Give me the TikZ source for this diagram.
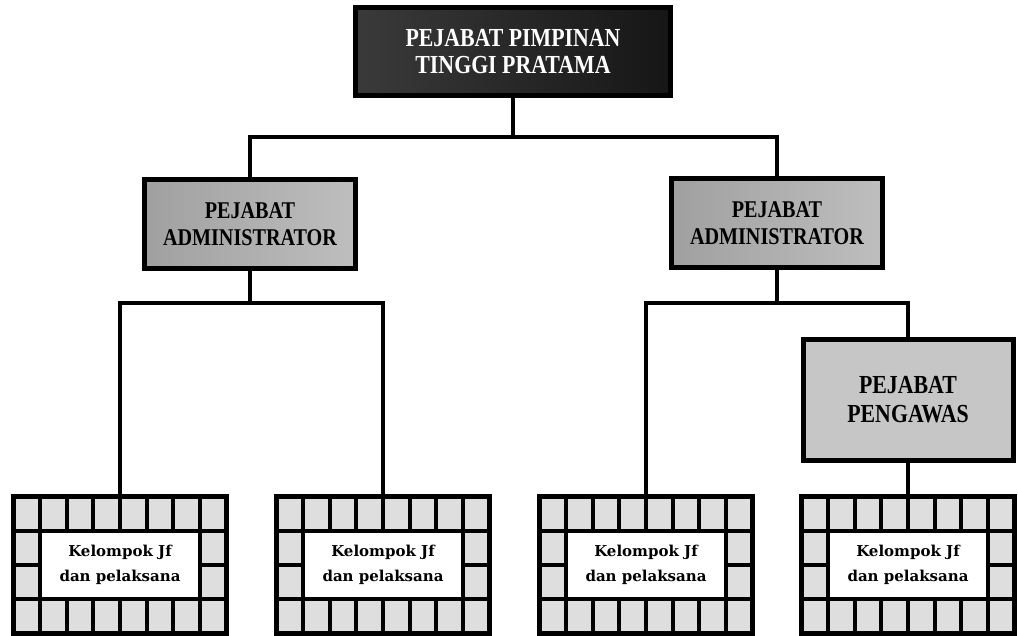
\documentclass[tikz,border=0pt]{standalone}
\usepackage{fontspec}
\setmainfont{Liberation Serif}
\newfontfamily\chartfont{Liberation Serif}[FakeStretch=0.84]
\newfontfamily\slabfont{DejaVu Serif}
\usetikzlibrary{positioning,calc}
\definecolor{SootDark}{RGB}{58,58,58}
\definecolor{SootDeep}{RGB}{22,22,22}
\definecolor{PewterGrey}{RGB}{160,160,160}
\definecolor{PewterLight}{RGB}{190,190,190}
\definecolor{PaperGrey}{RGB}{198,198,198}
\definecolor{TileGrey}{RGB}{222,222,222}
\colorlet{ColourTop}{SootDark}
\colorlet{ColourAdmin}{PewterGrey}
\colorlet{ColourAdminHi}{PewterLight}
\colorlet{ColourSpv}{PaperGrey}
\colorlet{ColourTile}{TileGrey}
\tikzset{
  chart style/.style={
    x=1pt, y=-1pt,
  },
  org box/.style={
    draw=black, line width=5pt,
    align=center, inner sep=0pt,
    font=\chartfont\bfseries\fontsize{24}{27}\selectfont
  },
  link/.style={
    line width=4.5pt,
  },
  tile line/.style={
    line width=4pt,
  },
}
\tikzset{
  top box/.style={
    org box,
    left color=ColourTop, right color=SootDeep,
    text=white,
    minimum width=315pt, minimum height=88pt,
    font=\chartfont\bfseries\fontsize{26}{27}\selectfont
  },
  admin box/.style={
    org box,
    left color=ColourAdmin, right color=ColourAdminHi,
    minimum width=211pt, minimum height=89pt
  },
  spv box/.style={
    org box, fill=ColourSpv,
    minimum width=210pt, minimum height=121pt,
    font=\chartfont\bfseries\fontsize{26}{29}\selectfont
  },
  group box/.style={
    org box, fill=ColourTile,
    minimum width=213pt, minimum height=137pt,
    font=\slabfont\bfseries\fontsize{15}{25}\selectfont,
    path picture={
      \coordinate (pa) at (path picture bounding box.north west);
      \coordinate (pb) at (path picture bounding box.north east);
      \coordinate (pc) at (path picture bounding box.south west);
      \coordinate (pd) at (path picture bounding box.south east);
      \coordinate (r1) at ($(pa)!.25!(pc)$);
      \coordinate (r1b) at ($(pb)!.25!(pd)$);
      \coordinate (r2) at ($(pa)!.5!(pc)$);
      \coordinate (r2b) at ($(pb)!.5!(pd)$);
      \coordinate (r3) at ($(pa)!.75!(pc)$);
      \coordinate (r3b) at ($(pb)!.75!(pd)$);
      \fill[white] ($(r1)!.125!(r1b)$) rectangle ($(r3)!.875!(r3b)$);
      \foreach \i in {1,...,7} {
        \draw[tile line] ($(pa)!{\i/8}!(pb)$) -- ($(r1)!{\i/8}!(r1b)$);
        \draw[tile line] ($(pc)!{\i/8}!(pd)$) -- ($(r3)!{\i/8}!(r3b)$);
      }
      \draw[tile line] (r1) -- (r1b);
      \draw[tile line] (r3) -- (r3b);
      \draw[tile line] ($(r1)!.125!(r1b)$) -- ($(r3)!.125!(r3b)$);
      \draw[tile line] ($(r1)!.875!(r1b)$) -- ($(r3)!.875!(r3b)$);
      \draw[tile line] (r2) -- ($(r2)!.125!(r2b)$);
      \draw[tile line] ($(r2)!.875!(r2b)$) -- (r2b);
    }
  },
}

\begin{document}
\begin{tikzpicture}[chart style]
  \useasboundingbox (0,0) rectangle (1018,636);
  % boxes
  \node[top box] (ptp) at (513,51.5) {PEJABAT PIMPINAN\\TINGGI PRATAMA};
  \node[admin box] (adm1) at (250,224) {PEJABAT\\ADMINISTRATOR};
  \node[admin box] (adm2) at (777,223) {PEJABAT\\ADMINISTRATOR};
  \node[spv box] (spv) at (908,400) {PEJABAT\\PENGAWAS};
  \node[group box] (jf1) at (120,565) {Kelompok Jf\\dan pelaksana};
  \node[group box] (jf2) at (383,565) {Kelompok Jf\\dan pelaksana};
  \node[group box] (jf3) at (646,565) {Kelompok Jf\\dan pelaksana};
  \node[group box] (jf4) at (908,565) {Kelompok Jf\\dan pelaksana};
  % lines
  \coordinate (bar0) at (513,137);
  \coordinate (bar1) at (250,303);
  \coordinate (bar2) at (777,303);
  \draw[link] (ptp) -- (bar0) -| (adm1);
  \draw[link] (bar0) -| (adm2);
  \draw[link] (adm1) -- (bar1) -| (jf1);
  \draw[link] (bar1) -| (jf2);
  \draw[link] (adm2) -- (bar2) -| (jf3);
  \draw[link] (bar2) -| (spv);
  \draw[link] (spv) -- (jf4);
\end{tikzpicture}
\end{document}
